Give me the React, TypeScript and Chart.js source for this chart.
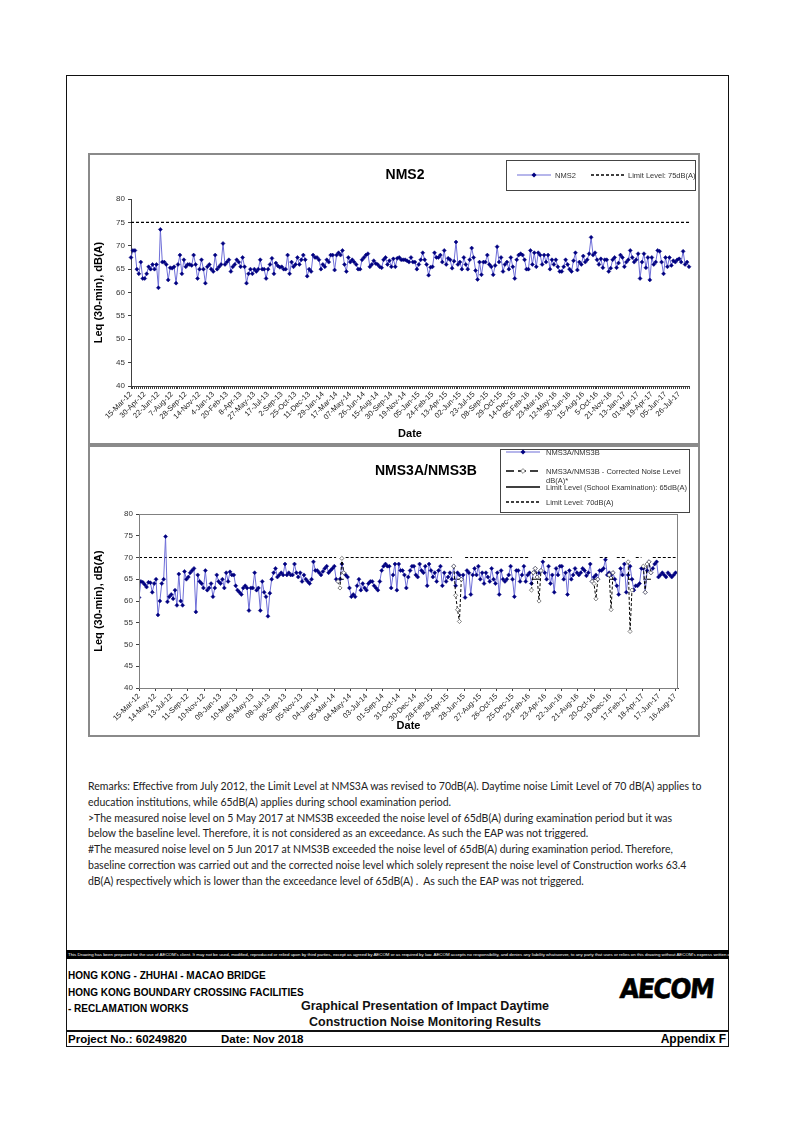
import React, { useEffect, useRef } from 'react';
import { Chart, registerables } from 'chart.js';

Chart.register(...registerables);

const FONT = "'Liberation Sans', Arial, Helvetica, sans-serif";

// ---------------- NMS2 (top chart) ----------------
const NMS2_TICK_LABELS = [
  '15-Mar-12', '30-Apr-12', '22-Jun-12', '7-Aug-12', '28-Sep-12', '14-Nov-12', '4-Jan-13', '20-Feb-13',
  '8-Apr-13', '27-May-13', '17-Jul-13', '2-Sep-13', '25-Oct-13', '11-Dec-13', '29-Jan-14', '17-Mar-14',
  '07-May-14', '26-Jun-14', '15-Aug-14', '30-Sep-14', '19-Nov-14', '05-Jan-15', '24-Feb-15', '13-Apr-15',
  '02-Jun-15', '23-Jul-15', '08-Sep-15', '29-Oct-15', '14-Dec-15', '05-Feb-16', '23-Mar-16', '12-May-16',
  '30-Jun-16', '15-Aug-16', '5-Oct-16', '21-Nov-16', '13-Jan-17', '01-Mar-17', '19-Apr-17', '05-Jun-17',
  '26-Jul-17',
];
const NMS2_POINTS_PER_LABEL = 7;
const NMS2_LIMIT = 75;
const NMS2_VALUES = [
  67.5, 69, 69, 65, 64, 66.5, 63, 63, 64, 65.5,
  65, 66, 65, 66, 61, 73.5, 66.5, 66.5, 66, 62.7,
  65.3, 65.2, 65.5, 62, 66, 68, 64, 67, 65.5, 66,
  66, 65.8, 68, 66, 63, 65, 67, 65, 62, 65.5,
  66, 65, 64.5, 68, 65, 65.5, 66, 70.5, 66, 66.5,
  67, 64.5, 65.5, 66, 67, 66.5, 65.5, 67.5, 65.5, 62,
  64, 65, 64, 65, 64.5, 65, 67, 65, 65, 63,
  65, 66, 67.3, 64, 66.3, 65.7, 65.4, 65.5, 65, 65,
  68, 64, 66.5, 65.5, 66, 67.5, 66, 67, 68, 67,
  63.5, 65, 64.5, 68, 67.5, 67.5, 67, 65, 66, 65.5,
  67, 66.5, 68, 68, 64.8, 68, 68.5, 68, 69, 66,
  64.5, 67.5, 66.5, 67, 66.5, 66, 65, 65, 67, 67.5,
  68, 68.3, 65.5, 66, 66.8, 66.2, 66, 65.5, 65.3, 67,
  67.5, 66, 66.8, 65.5, 67.2, 65.5, 67.3, 67.5,
  67, 67, 67, 66.8, 66.5, 67.5, 66.5, 66.5, 65,
  66, 67, 68.5, 67, 66, 63.7, 65.4, 65.5, 68.5, 67.5,
  67.5, 68, 66.5, 69, 66, 67.3, 67, 65.2, 66.7, 70.8,
  66, 66.5, 65, 67.5, 66, 65, 67, 69.5, 67.5, 64.7,
  62.8, 66.5, 63.8, 66.5, 66.5, 68, 66, 65.5, 63.8, 65.8,
  69.8, 66.5, 67.5, 64.5, 66, 66.5, 65, 67.5, 65.5, 63,
  67, 68, 68.3, 68, 67, 65, 65, 69, 66, 68.5,
  65.5, 68.5, 68, 66, 68, 66.5, 68, 65, 67, 66,
  67, 65.5, 64.5, 64.5, 65.5, 67, 66, 65, 64.5,
  66.8, 68.5, 64.8, 66.5, 66, 67.8, 66.5, 67, 68.3, 71.8,
  68, 68.5, 67, 66, 67.2, 65.3, 67, 67, 64.5, 65.2,
  67, 67.5, 65.3, 66.3, 68, 67.5, 65.5, 66.5, 67, 69,
  67.5, 66.5, 67, 68.3, 63, 66.5, 68.3, 65.3, 67.5, 62.7,
  67.5, 66, 66.5, 69, 68.8, 66.5, 64, 67.5,
  65.5, 67.5, 65.8, 66.8, 66.5, 67, 67.2, 66.5, 68.8,
  66, 66.5, 65.5,
];

// ---------------- NMS3A/NMS3B (bottom chart) ----------------
const NMS3_TICK_LABELS = [
  '15-Mar-12', '14-May-12', '13-Jul-12', '11-Sep-12', '10-Nov-12', '09-Jan-13', '10-Mar-13', '09-May-13',
  '08-Jul-13', '06-Sep-13', '05-Nov-13', '04-Jan-14', '05-Mar-14', '04-May-14', '03-Jul-14', '01-Sep-14',
  '31-Oct-14', '30-Dec-14', '28-Feb-15', '29-Apr-15', '28-Jun-15', '27-Aug-15', '26-Oct-15', '25-Dec-15',
  '23-Feb-16', '23-Apr-16', '22-Jun-16', '21-Aug-16', '20-Oct-16', '19-Dec-16', '17-Feb-17', '18-Apr-17',
  '17-Jun-17', '16-Aug-17',
];
const NMS3_TICK_STEP_DAYS = 60;
const NMS3_AXIS_MAX_DAYS = 1990;
const NMS3_INTERVAL_DAYS = 7;
const NMS3_LIMIT = 70;
const NMS3_EXAM_LIMIT = 65;
const NMS3_VALUES = [
  60.8, 64.5, 64.3, 63.8, 63.2, 64.3, 64.2, 62.0, 64.0, 65.0,
  56.8, 60.0, 64.0, 65.0, 74.8, 59.8, 61.0, 61.5, 60.5, 62.5,
  59.0, 66.2, 60.0, 59.0, 66.8, 65.0, 65.5, 66.5, 67.0, 67.5,
  57.5, 66.0, 64.5, 64.0, 63.0, 67.0, 62.5, 63.0, 64.0, 61.0,
  63.0, 66.0, 64.5, 64.0, 65.0, 63.0, 66.5, 64.5, 66.7, 66.0,
  66.0, 63.5, 62.5, 62.0, 61.5, 63.0, 63.5, 63.0, 57.8, 63.0,
  63.0, 66.5, 62.5, 63.0, 57.8, 64.5, 62.0, 61.0, 56.5, 61.8,
  65.0, 66.5, 67.5, 65.5, 66.0, 66.5, 66.0, 68.5, 66.0, 66.5,
  66.0, 66.0, 68.5, 66.5, 65.5, 66.5, 64.5, 66.0, 65.0, 64.5,
  64.0, 65.0, 69.0, 67.0, 67.0, 66.5, 66.0, 66.8, 67.5, 68.0,
  66.5, 67.0, 67.5, 68.0, 65.0, 64.5, 65.0, 68.5, 66.5, 66.0,
  65.5, 63.0, 61.0, 61.5, 61.0, 63.5, 65.0, 62.5, 64.0, 63.0,
  62.5, 64.0, 64.5, 64.5, 63.5, 63.0, 62.5, 64.5, 67.0, 68.0,
  68.5, 68.0, 68.0, 63.0, 66.0, 68.5, 62.5, 68.5, 67.0, 67.0,
  66.0, 63.0, 65.5, 67.0, 68.0, 68.0, 66.0, 65.5, 68.5, 67.0,
  66.5, 68.0, 63.5, 68.5, 67.0, 65.5, 66.5, 64.5, 67.0, 68.0,
  63.5, 66.5, 64.5, 65.5, 66.5, 65.0, 68.0, 63.5, 66.5, 66.0,
  65.0, 66.0, 60.8, 67.0, 66.5, 61.5, 66.0, 67.5, 66.0, 68.0,
  65.0, 66.5, 64.0, 66.5, 65.5, 64.5, 67.5, 65.0, 64.0, 66.5,
  61.5, 67.0, 65.0, 64.5, 65.0, 66.0, 68.0, 65.0, 61.0, 67.0,
  67.0, 64.5, 66.0, 68.0, 64.5, 66.0, 66.5, 64.0, 66.5, 67.5,
  65.5, 66.5, 67.0, 69.0, 66.5, 65.0, 68.0, 64.0, 66.0, 62.0,
  67.5, 66.0, 68.0, 68.0, 65.0, 66.5, 61.5, 67.0, 65.0, 66.0,
  67.5, 66.5, 66.0, 66.5, 67.5, 67.0, 65.8, 66.5, 68.5, 64.5,
  65.5, 66.0, 65.0, 67.0, 67.0, 67.5, 69.5, 66.0, 66.5, 66.0,
  66.5, 65.0, 63.5, 61.5, 67.5, 66.0, 68.5, 62.0, 66.0, 68.0,
  65.0, 62.5, 63.5, 63.5, 64.0, 67.5, 67.5, 62.0, 67.0, 69.0,
  66.5, 67.5, 68.5, 69.0, 65.5, 66.0, 66.5, 66.0, 65.5, 66.5,
  66.0, 65.5, 66.0, 66.5,
];
// Corrected noise level (index of measurement, corrected value)
const NMS3_CORR_IDX = [105, 106, 107, 108, 166, 167, 168, 169, 170, 207, 208, 209, 210, 211, 212, 239, 240, 241, 242, 248, 249, 250, 258, 259, 260, 266, 267, 268, 269, 270];
const NMS3_CORR_VAL = [64.5, 63.0, 69.8, 66.5, 68.0, 61.3, 58.0, 55.3, 65.0, 62.5, 66.5, 67.5, 65.5, 60.0, 67.0, 64.5, 64.0, 60.5, 65.0, 66.0, 58.0, 66.5, 69.0, 53.0, 62.5, 68.0, 62.0, 68.5, 69.0, 66.5];
// School examination periods (first and last measurement index)
const NMS3_EXAM_PERIODS = [[105, 108], [166, 171], [207, 212], [239, 242], [248, 251], [258, 261], [266, 270]];

const REMARKS = [
  'Remarks: Effective from July 2012, the Limit Level at NMS3A was revised to 70dB(A). Daytime noise Limit Level of 70 dB(A) applies to',
  'education institutions, while 65dB(A) applies during school examination period.',
  '>The measured noise level on 5 May 2017 at NMS3B exceeded the noise level of 65dB(A) during examination period but it was',
  'below the baseline level. Therefore, it is not considered as an exceedance. As such the EAP was not triggered.',
  '#The measured noise level on 5 Jun 2017 at NMS3B exceeded the noise level of 65dB(A) during examination period. Therefore,',
  'baseline correction was carried out and the corrected noise level which solely represent the noise level of Construction works 63.4',
  'dB(A) respectively which is lower than the exceedance level of 65dB(A) .  As such the EAP was not triggered.',
];

const DISCLAIMER =
  "This Drawing has been prepared for the use of AECOM's client. It may not be used, modified, reproduced or relied upon by third parties, except as agreed by AECOM or as required by law. AECOM accepts no responsibility, and denies any liability whatsoever, to any party that uses or relies on this drawing without AECOM's express written consent.";

const LINE_BLUE = '#6f6fd8';
const MARK_NAVY = '#000080';

const plotFrame = {
  id: 'plotFrame',
  afterDatasetsDraw(chart: any) {
    const { ctx, chartArea: a } = chart;
    ctx.save();
    ctx.strokeStyle = '#808080';
    ctx.lineWidth = 1;
    ctx.strokeRect(a.left + 0.5, a.top + 0.5, a.right - a.left - 1, a.bottom - a.top);
    ctx.restore();
  },
};

function axisY(width: number) {
  return {
    min: 40,
    max: 80,
    ticks: { stepSize: 5, font: { size: 8, family: FONT }, color: '#333', padding: 3 },
    grid: { drawOnChartArea: false, tickLength: 3, color: '#404040' },
    border: { color: '#404040', width: 1 },
    title: { display: true, text: 'Leq (30-min), dB(A)', font: { size: 11, weight: 'bold', family: FONT }, color: '#000' },
    afterFit: (s: any) => {
      s.width = width;
    },
  };
}

function TopChart() {
  const ref = useRef<HTMLCanvasElement | null>(null);
  useEffect(() => {
    if (!ref.current) return;
    const labels = NMS2_VALUES.map((_, i) =>
      i % NMS2_POINTS_PER_LABEL === 0 ? NMS2_TICK_LABELS[i / NMS2_POINTS_PER_LABEL] ?? '' : ''
    );
    const chart = new Chart(ref.current, {
      type: 'line',
      data: {
        labels,
        datasets: [
          {
            label: 'NMS2',
            data: NMS2_VALUES,
            borderColor: LINE_BLUE,
            borderWidth: 1,
            pointStyle: 'rectRot',
            pointRadius: 2,
            pointBackgroundColor: MARK_NAVY,
            pointBorderColor: MARK_NAVY,
            pointBorderWidth: 0.5,
            tension: 0,
          },
          {
            label: 'Limit Level: 75dB(A)',
            data: NMS2_VALUES.map(() => NMS2_LIMIT),
            borderColor: '#000',
            borderWidth: 1.2,
            borderDash: [3, 2],
            pointRadius: 0,
          },
        ],
      },
      options: {
        animation: false,
        responsive: false,
        events: [],
        layout: { padding: { top: 46, right: 11, left: 0, bottom: 0 } },
        plugins: { legend: { display: false }, tooltip: { enabled: false } },
        scales: {
          x: {
            type: 'category',
            offset: false,
            grid: { drawOnChartArea: false, tickLength: 3, color: '#404040' },
            border: { color: '#404040', width: 1 },
            ticks: {
              autoSkip: false,
              maxRotation: 45,
              minRotation: 45,
              font: { size: 7.5, family: FONT },
              color: '#222',
              padding: 1,
            },
            title: { display: true, text: 'Date', font: { size: 11, weight: 'bold', family: FONT }, color: '#000' },
            afterFit: (s: any) => {
              s.height = 59;
            },
          },
          y: axisY(43),
        },
      } as any,
    });
    return () => chart.destroy();
  }, []);
  return <canvas ref={ref} width={612} height={292} style={{ position: 'absolute', left: 0, top: 0, display: 'block' }} />;
}

function BottomChart() {
  const ref = useRef<HTMLCanvasElement | null>(null);
  useEffect(() => {
    if (!ref.current) return;
    const xOf = (i: number) => i * NMS3_INTERVAL_DAYS;
    const inExam = (i: number) => NMS3_EXAM_PERIODS.some(([a, b]) => i >= a && i <= b);
    const measured = NMS3_VALUES.map((v, i) => ({ x: xOf(i), y: v }));
    const corrected = NMS3_VALUES.map((_, i) => {
      const k = NMS3_CORR_IDX.indexOf(i);
      return { x: xOf(i), y: k >= 0 ? NMS3_CORR_VAL[k] : null };
    });
    const limit70 = NMS3_VALUES.map((_, i) => ({ x: xOf(i), y: inExam(i) ? null : NMS3_LIMIT }));
    const limit65 = NMS3_VALUES.map((_, i) => ({ x: xOf(i), y: inExam(i) ? NMS3_EXAM_LIMIT : null }));
    const chart = new Chart(ref.current, {
      type: 'line',
      data: {
        datasets: [
          {
            label: 'NMS3A/NMS3B - Corrected Noise Level dB(A)*',
            data: corrected,
            borderColor: '#000',
            borderWidth: 1,
            borderDash: [3, 2],
            pointStyle: 'rectRot',
            pointRadius: 2.1,
            pointBackgroundColor: '#fff',
            pointBorderColor: '#666',
            pointBorderWidth: 0.8,
            spanGaps: false,
          },
          {
            label: 'NMS3A/NMS3B',
            data: measured,
            borderColor: LINE_BLUE,
            borderWidth: 1,
            pointStyle: 'rectRot',
            pointRadius: 2,
            pointBackgroundColor: MARK_NAVY,
            pointBorderColor: MARK_NAVY,
            pointBorderWidth: 0.5,
          },
          {
            label: 'Limit Level (School Examination): 65dB(A)',
            data: limit65,
            borderColor: '#000',
            borderWidth: 1.2,
            pointRadius: 0,
            spanGaps: false,
          },
          {
            label: 'Limit Level: 70dB(A)',
            data: limit70,
            borderColor: '#000',
            borderWidth: 1.2,
            borderDash: [3, 2],
            pointRadius: 0,
            spanGaps: false,
          },
        ],
      },
      options: {
        animation: false,
        responsive: false,
        events: [],
        layout: { padding: { top: 69, right: 22, left: 0, bottom: 0 } },
        plugins: { legend: { display: false }, tooltip: { enabled: false } },
        scales: {
          x: {
            type: 'linear',
            min: 0,
            max: NMS3_AXIS_MAX_DAYS,
            afterBuildTicks: (s: any) => {
              s.ticks = NMS3_TICK_LABELS.map((_, i) => ({ value: i * NMS3_TICK_STEP_DAYS }));
            },
            grid: { drawOnChartArea: false, tickLength: 3, color: '#404040' },
            border: { color: '#404040', width: 1 },
            ticks: {
              autoSkip: false,
              maxRotation: 45,
              minRotation: 45,
              font: { size: 7.5, family: FONT },
              color: '#222',
              padding: 1,
              callback: (_v: any, idx: number) => NMS3_TICK_LABELS[idx] ?? '',
            },
            title: { display: true, text: 'Date', font: { size: 11, weight: 'bold', family: FONT }, color: '#000' },
            afterFit: (s: any) => {
              s.height = 49;
            },
          },
          y: axisY(51),
        },
      } as any,
      plugins: [plotFrame],
    });
    return () => chart.destroy();
  }, []);
  return <canvas ref={ref} width={612} height={292} style={{ position: 'absolute', left: 0, top: 0, display: 'block' }} />;
}

function Sample({ kind }: { kind: 'blue' | 'corr' | 'solid' | 'dash' }) {
  const w = 34;
  const h = 8;
  return (
    <svg width={w} height={h} style={{ display: 'block' }}>
      {kind === 'blue' && (
        <>
          <line x1={0} y1={4} x2={w} y2={4} stroke={LINE_BLUE} strokeWidth={1.2} />
          <polygon points={`${w / 2},1.5 ${w / 2 + 2.5},4 ${w / 2},6.5 ${w / 2 - 2.5},4`} fill={MARK_NAVY} />
        </>
      )}
      {kind === 'corr' && (
        <>
          <line x1={0} y1={4} x2={w} y2={4} stroke="#000" strokeWidth={1.4} strokeDasharray="8 4" />
          <polygon points={`${w / 2},1.6 ${w / 2 + 2.4},4 ${w / 2},6.4 ${w / 2 - 2.4},4`} fill="#fff" stroke="#666" strokeWidth={0.8} />
        </>
      )}
      {kind === 'solid' && <line x1={0} y1={4} x2={w} y2={4} stroke="#000" strokeWidth={1.3} />}
      {kind === 'dash' && <line x1={0} y1={4} x2={w} y2={4} stroke="#000" strokeWidth={1.3} strokeDasharray="3 2" />}
    </svg>
  );
}

const abs = (left: number, top: number, extra: React.CSSProperties = {}): React.CSSProperties => ({
  position: 'absolute',
  left,
  top,
  ...extra,
});

const legendText: React.CSSProperties = { fontFamily: FONT, fontSize: 7.5, color: '#333', whiteSpace: 'nowrap', lineHeight: '9px' };

export default function App() {
  const boxBorder: React.CSSProperties = {
    position: 'absolute',
    inset: 0,
    border: '2px solid #8a8a8a',
    boxSizing: 'border-box',
    pointerEvents: 'none',
  };
  return (
    <div style={{ position: 'absolute', left: 0, top: 0, width: 794, height: 1123, background: '#fff', overflow: 'hidden', fontFamily: FONT }}>
      {/* outer frame */}
      <div style={abs(66, 75, { width: 663, height: 972, border: '1.5px solid #111', boxSizing: 'border-box' })} />

      {/* top chart box */}
      <div style={abs(88, 153, { width: 612, height: 292 })}>
        <TopChart />
        <div style={boxBorder} />
        <div style={abs(0, 13, { width: 634, textAlign: 'center', fontWeight: 'bold', fontSize: 14, lineHeight: '16px' })}>NMS2</div>
        <div style={abs(418, 7, { width: 190, height: 31, border: '1px solid #444', boxSizing: 'border-box', background: '#fff' })}>
          <div style={abs(10, 10)}>
            <Sample kind="blue" />
          </div>
          <div style={abs(48, 9.5, legendText)}>NMS2</div>
          <div style={abs(84, 10)}>
            <Sample kind="dash" />
          </div>
          <div style={abs(121, 9.5, legendText)}>Limit Level: 75dB(A)</div>
        </div>
      </div>

      {/* bottom chart box */}
      <div style={abs(88, 445, { width: 612, height: 292 })}>
        <BottomChart />
        <div style={boxBorder} />
        <div style={abs(287, 17, { width: 90, textAlign: 'center', fontWeight: 'bold', fontSize: 14, lineHeight: '16px', whiteSpace: 'nowrap' })}>
          NMS3A/NMS3B
        </div>
        <div style={abs(412, 4, { width: 190, height: 64, border: '1px solid #444', boxSizing: 'border-box', background: '#fff' })}>
          <div style={abs(5, -2)}>
            <Sample kind="blue" />
          </div>
          <div style={abs(45, -2.5, legendText)}>NMS3A/NMS3B</div>
          <div style={abs(5, 17)}>
            <Sample kind="corr" />
          </div>
          <div style={abs(45, 16.5, legendText)}>
            NMS3A/NMS3B - Corrected Noise Level
            <br />
            dB(A)*
          </div>
          <div style={abs(5, 33)}>
            <Sample kind="solid" />
          </div>
          <div style={abs(45, 32.5, legendText)}>Limit Level (School Examination): 65dB(A)</div>
          <div style={abs(5, 48)}>
            <Sample kind="dash" />
          </div>
          <div style={abs(45, 47.5, legendText)}>Limit Level: 70dB(A)</div>
        </div>
      </div>

      {/* remarks */}
      <div style={abs(88, 779, { fontFamily: 'Lato, "Open Sans", sans-serif', fontSize: 10.5, lineHeight: '15.8px', color: '#222' })}>
        {REMARKS.map((r, i) => (
          <div key={i} style={{ whiteSpace: 'pre' }}>
            {r}
          </div>
        ))}
      </div>

      {/* footer */}
      <div style={abs(66, 950, { width: 663, height: 9, background: '#000', overflow: 'hidden' })}>
        <div style={{ color: '#fff', fontSize: 4.4, lineHeight: '9px', whiteSpace: 'nowrap', paddingLeft: 2, fontFamily: FONT }}>
          {DISCLAIMER}
        </div>
      </div>
      <div style={abs(68, 968, { fontWeight: 'bold', fontSize: 10, lineHeight: '16.5px', whiteSpace: 'nowrap', color: '#000' })}>
        <div>HONG KONG - ZHUHAI - MACAO BRIDGE</div>
        <div>HONG KONG BOUNDARY CROSSING FACILITIES</div>
        <div>- RECLAMATION WORKS</div>
      </div>
      <div style={abs(250, 998, { width: 350, textAlign: 'center', fontWeight: 'bold', fontSize: 12.5, lineHeight: '16px', whiteSpace: 'nowrap', color: '#111' })}>
        <div>Graphical Presentation of Impact Daytime</div>
        <div>Construction Noise Monitoring Results</div>
      </div>
      <div
        style={abs(620, 974, {
          fontWeight: 900,
          fontSize: 27,
          lineHeight: '30px',
          letterSpacing: -1.5,
          color: '#000',
          transform: 'scaleX(0.92) skewX(-6deg)',
          transformOrigin: 'left center',
          fontFamily: "'DejaVu Sans', " + FONT,
          WebkitTextStroke: '0.6px #000',
        })}
      >
        AECOM
      </div>
      <div style={abs(66, 1030, { width: 663, height: 1.5, background: '#111' })} />
      <div style={abs(68, 1032, { fontWeight: 'bold', fontSize: 11.5, lineHeight: '14px', whiteSpace: 'nowrap', color: '#000' })}>
        Project No.: 60249820
      </div>
      <div style={abs(221, 1032, { fontWeight: 'bold', fontSize: 11.5, lineHeight: '14px', whiteSpace: 'nowrap', color: '#000' })}>
        Date: Nov 2018
      </div>
      <div style={abs(600, 1032, { width: 126, textAlign: 'right', fontWeight: 'bold', fontSize: 12, lineHeight: '14px', whiteSpace: 'nowrap', color: '#000' })}>
        Appendix F
      </div>
    </div>
  );
}
